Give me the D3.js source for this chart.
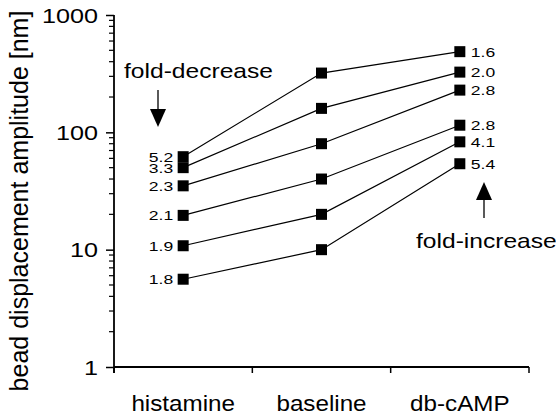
<!DOCTYPE html>
<html>
<head>
<meta charset="utf-8">
<script src="https://cdn.jsdelivr.net/npm/d3@7"></script>
<style>
  body { margin: 0; background: #fff; }
  svg { font-family: "Liberation Sans", Arial, sans-serif; }
</style>
</head>
<body>
<svg></svg>
<script>
// data
let categories = ['histamine', 'baseline', 'db-cAMP'];
let histamine = [5.6, 10.8, 19.6, 35, 50, 62];
let baseline = [10, 20, 40, 80, 160, 320];
let dbcamp = [54, 83, 115, 229, 326, 487];
let foldDecrease = ['1.8', '1.9', '2.1', '2.3', '3.3', '5.2'];
let foldIncrease = ['5.4', '4.1', '2.8', '2.8', '2.0', '1.6'];
let yTicks = [1, 10, 100, 1000];

let width = 556, height = 418;
let plotLeft = 114, plotRight = 529, plotTop = 15, plotBottom = 367;
let stretch = 1.2; // the reference text is a bit wide

let svg = d3.select('svg').attr('width', width).attr('height', height);

let xScale = d3.scaleBand().domain(categories).range([plotLeft, plotRight]);
let yScale = d3.scaleLog().domain([1, 1000]).range([plotBottom, plotTop]);

// put text at x,y with a horizontal stretch
let place = (x, y, sx) => `translate(${x},${y}) scale(${sx},1)`;

// build series from the arrays
let series = baseline.map((b, i) => ({
    values: [histamine[i], b, dbcamp[i]],
    dec: foldDecrease[i],
    inc: foldIncrease[i]
}));

// y axis with minor ticks
let minor = [];
for (let d = 1; d < 1000; d *= 10) {
    for (let k = 2; k <= 9; k++) minor.push(d * k);
}
let yAxis = svg.append('g').attr('transform', `translate(${plotLeft},0)`);
yAxis.call(d3.axisLeft(yScale).tickValues(yTicks).tickFormat('').tickSize(8));
yAxis.append('g').selectAll('line').data(minor).enter().append('line')
    .attr('x1', -5).attr('x2', 0)
    .attr('y1', (d) => yScale(d)).attr('y2', (d) => yScale(d))
    .attr('stroke', '#000').attr('stroke-width', 1.2);
yAxis.select('.domain').attr('d', `M0,${plotTop}V${plotBottom + 6}`).attr('stroke-width', 1.8);
yAxis.selectAll('.tick line').attr('stroke-width', 1.5);
yAxis.append('g').selectAll('text').data(yTicks).enter().append('text')
    .attr('transform', (d) => place(-16, yScale(d) + 7.5, stretch))
    .attr('text-anchor', 'end')
    .attr('fill', '#000')
    .attr('font-family', 'Liberation Sans, Arial, sans-serif')
    .attr('font-size', 21)
    .text(d3.format('d'));

// x axis: ticks at band edges
let xAxis = svg.append('g').attr('transform', `translate(0,${plotBottom})`);
xAxis.append('line').attr('x1', plotLeft).attr('x2', plotRight).attr('stroke', '#000').attr('stroke-width', 1.8);
let edges = categories.map((c) => xScale(c)).concat([plotRight]);
xAxis.selectAll('.edge').data(edges).enter().append('line')
    .attr('x1', (d) => d).attr('x2', (d) => d).attr('y1', 0).attr('y2', 6)
    .attr('stroke', '#000').attr('stroke-width', 1.5);
xAxis.selectAll('text').data(categories).enter().append('text')
    .attr('transform', (d) => place(xScale(d) + xScale.bandwidth() / 2, 44, 1.1))
    .attr('text-anchor', 'middle')
    .attr('font-size', 22)
    .text((d) => d);

// y title
svg.append('text')
    .attr('transform', 'translate(28,201) rotate(-90)')
    .attr('text-anchor', 'middle')
    .attr('font-size', 25)
    .text('bead displacement amplitude [nm]');

let cx = (c) => xScale(c) + xScale.bandwidth() / 2;
let line = d3.line().x((d, i) => cx(categories[i])).y((d) => yScale(d));

// lines
svg.selectAll('.series').data(series).enter().append('path')
    .attr('d', (s) => line(s.values))
    .attr('fill', 'none').attr('stroke', '#000').attr('stroke-width', 1.2);

// markers
series.forEach((s) => {
    svg.selectAll(null).data(s.values).enter().append('rect')
        .attr('x', (d, i) => cx(categories[i]) - 5.5)
        .attr('y', (d) => yScale(d) - 5.5)
        .attr('width', 11).attr('height', 11)
        .attr('fill', '#000');
});

// fold labels
svg.selectAll('.dec').data(series).enter().append('text')
    .attr('transform', (s) => place(cx(categories[0]) - 10, yScale(s.values[0]) + 5, 1.3))
    .attr('text-anchor', 'end').attr('font-size', 13.5)
    .text((s) => s.dec);
svg.selectAll('.inc').data(series).enter().append('text')
    .attr('transform', (s) => place(cx(categories[2]) + 11, yScale(s.values[2]) + 5, 1.3))
    .attr('text-anchor', 'start').attr('font-size', 13.5)
    .text((s) => s.inc);

// annotations
svg.append('text').attr('transform', place(124, 78, stretch)).attr('font-size', 20.5).text('fold-decrease');
svg.append('line').attr('x1', 158).attr('x2', 158).attr('y1', 90).attr('y2', 112)
    .attr('stroke', '#000').attr('stroke-width', 1.3);
svg.append('path').attr('d', 'M150,109L166,109L158,127Z').attr('fill', '#000');

svg.append('text').attr('transform', place(416, 248, stretch)).attr('font-size', 20.5).text('fold-increase');
svg.append('line').attr('x1', 484).attr('x2', 484).attr('y1', 196).attr('y2', 218)
    .attr('stroke', '#000').attr('stroke-width', 1.3);
svg.append('path').attr('d', 'M476,200L492,200L484,182Z').attr('fill', '#000');
</script>
</body>
</html>
